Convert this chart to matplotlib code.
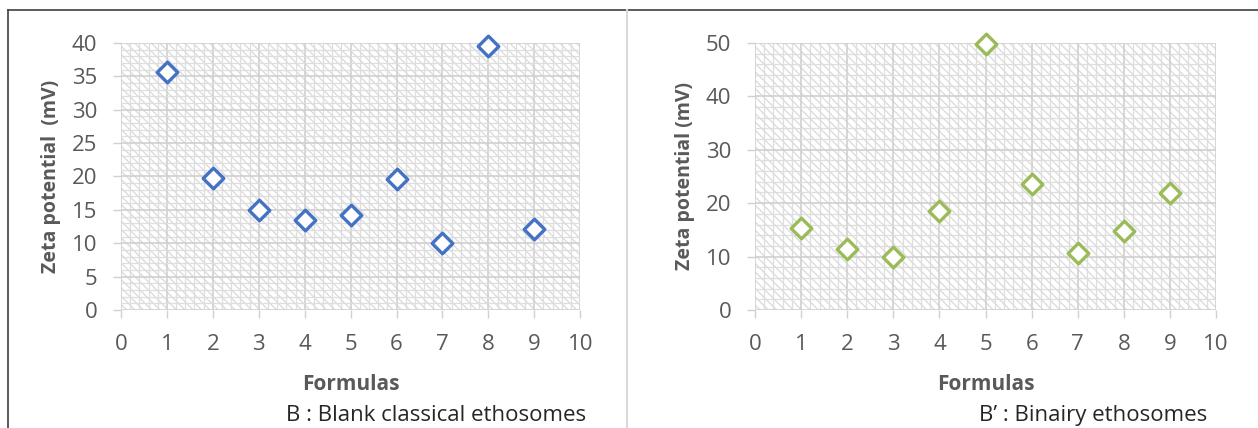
import matplotlib
matplotlib.use('Agg')
from matplotlib import pyplot as plt
from matplotlib.patches import Rectangle
from matplotlib.lines import Line2D
from matplotlib.ticker import MultipleLocator

plt.rcParams['font.family'] = ['Open Sans', 'DejaVu Sans']
plt.rcParams['hatch.linewidth'] = 1.0

# data
formulas = [1, 2, 3, 4, 5, 6, 7, 8, 9]
zeta_classical = [35.7, 19.8, 15.0, 13.5, 14.2, 19.6, 10.0, 39.6, 12.1]
zeta_binary = [15.4, 11.5, 10.0, 18.6, 49.8, 23.6, 10.7, 14.7, 21.9]

fig = plt.figure(figsize=(12.58, 4.28), dpi=100)

txt = '#595959'


def panel(rect, y, color, ymax, ystep, ylabel, caption, cap_x):
    ax = fig.add_axes(rect)
    # hatched plot area like the excel pattern fill
    ax.add_patch(Rectangle((0, 0), 1, 1, transform=ax.transAxes, facecolor='white',
                           edgecolor='#dcdcdc', hatch='\\\\\\\\', lw=0, zorder=0))
    ax.set_xlim(0, 10)
    ax.set_ylim(0, ymax)
    ax.xaxis.set_major_locator(MultipleLocator(1))
    ax.xaxis.set_minor_locator(MultipleLocator(0.2))
    ax.yaxis.set_major_locator(MultipleLocator(ystep))
    ax.yaxis.set_minor_locator(MultipleLocator(ystep / 5))
    ax.grid(which='major', color='#d0d0d0', lw=1.2, zorder=1)
    ax.grid(which='minor', color='#dedede', lw=0.9, zorder=1)
    for s in ax.spines.values():
        s.set_visible(False)
    ax.tick_params(which='major', length=6, width=1, color='#d0d0d0', labelcolor=txt,
                   labelsize=16)
    ax.tick_params(axis='y', pad=11)
    ax.tick_params(axis='x', pad=11)
    ax.tick_params(which='minor', length=0)
    ax.scatter(formulas, y, marker='D', s=110, facecolor='white', edgecolor=color,
               linewidth=2.4, zorder=5, clip_on=False)
    ax.set_ylabel(ylabel, fontsize=14, fontweight='bold', color=txt, labelpad=8)
    ax.set_xlabel('Formulas', fontsize=15, fontweight='bold', color=txt, labelpad=14)
    fig.text(cap_x, 0.03, caption, fontsize=16, color='#262626', ha='center', va='center')
    return ax


panel([0.0962, 0.2757, 0.365, 0.624], zeta_classical, '#4472C4', 40, 5,
      'Zeta potential  (mV)', 'B : Blank classical ethosomes', 436 / 1258)
panel([0.6002, 0.2757, 0.3665, 0.624], zeta_binary, '#9BBB59', 50, 10,
      'Zeta potential (mV)', 'B\u2019 : Binairy ethosomes', 1093 / 1258)

# outer frame and divider
fig.add_artist(Line2D([8 / 1258, 1], [1 - 10 / 428, 1 - 10 / 428], color='#404040', lw=1.2))
fig.add_artist(Line2D([8 / 1258, 8 / 1258], [0, 1 - 10 / 428], color='#404040', lw=1.2))
fig.add_artist(Line2D([627 / 1258, 627 / 1258], [0, 1 - 10 / 428], color='#d9d9d9', lw=1.5))

plt.savefig('out.png', dpi=100)
